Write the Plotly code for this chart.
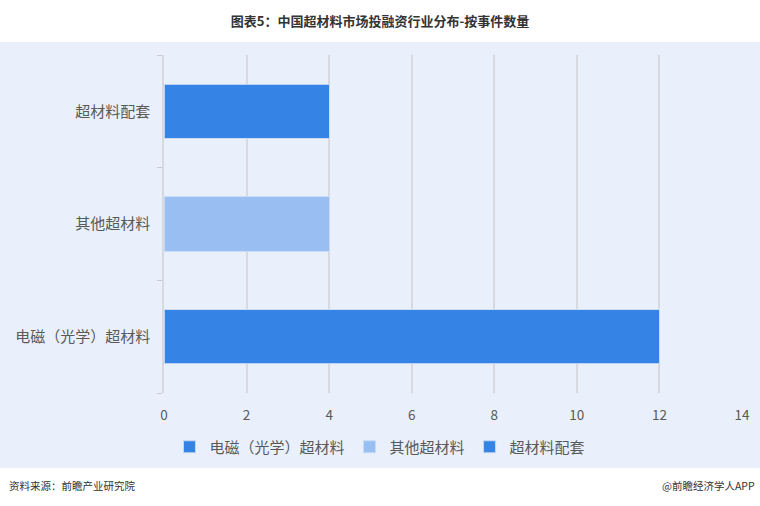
import plotly.graph_objects as go

categories = ["电磁（光学）超材料", "其他超材料", "超材料配套"]
values = [12, 4, 4]
colors = ["#3583e5", "#99bff2", "#3583e5"]
x_ticks = [0, 2, 4, 6, 8, 10, 12, 14]

FONT = "Noto Sans CJK SC"
W, H = 760, 506
L, R, T, B = 164, 18, 55, 113

fig = go.Figure()
for cat, val, col in zip(categories, values, colors):
    fig.add_trace(go.Bar(
        y=[cat], x=[val], name=cat, orientation="h",
        marker=dict(color=col, line=dict(color="rgba(200,220,245,0.9)", width=1)),
        width=0.48,
    ))

pw = W - L - R
ph = H - T - B
def px_x(p):
    return (p - L) / pw
def px_y(p):
    return (H - B - p) / ph

fig.add_shape(type="rect", xref="paper", yref="paper",
              x0=px_x(0), x1=px_x(W), y0=px_y(468), y1=px_y(42),
              fillcolor="#e9f0fb", line=dict(width=0), layer="below")

fig.update_layout(
    width=W, height=H,
    margin=dict(l=L, r=R, t=T, b=B, autoexpand=False),
    paper_bgcolor="white", plot_bgcolor="rgba(0,0,0,0)",
    barmode="stack",
    font=dict(family=FONT, size=13, color="#595959"),
    title=dict(text="<b>图表5：中国超材料市场投融资行业分布-按事件数量</b>",
               x=0.5, xref="container", xanchor="center", y=1 - 21 / H, yanchor="middle",
               font=dict(family=FONT, size=13, color="#333333")),
    xaxis=dict(range=[0, 14], tickvals=x_ticks, showgrid=True, gridcolor="#d6dae0",
               gridwidth=1.5, zeroline=False, showline=False, ticks="",
               ticklabelstandoff=12,
               tickfont=dict(size=13.5, color="#595959"), fixedrange=True, automargin=False),
    yaxis=dict(categoryorder="array", categoryarray=categories, showline=True,
               linecolor="#d6dae0", linewidth=1.5, ticks="outside", tickson="boundaries",
               ticklen=5, tickcolor="#c8ccd2", showgrid=False, automargin=False,
               ticklabelstandoff=9,
               tickfont=dict(size=15, color="#595959")),
    legend=dict(orientation="h", x=0.5, xanchor="center", xref="container",
                y=1 - 447 / H, yref="container", yanchor="middle",
                font=dict(size=15, color="#595959"), bgcolor="rgba(0,0,0,0)",
                itemwidth=30, traceorder="normal"),
    showlegend=True,
)

fig.add_annotation(text="资料来源：前瞻产业研究院", xref="paper", yref="paper",
                   x=px_x(7), y=px_y(485), xanchor="left", yanchor="middle",
                   showarrow=False, font=dict(family=FONT, size=10.5, color="#333333"))
fig.add_annotation(text="@前瞻经济学人APP", xref="paper", yref="paper",
                   x=px_x(757), y=px_y(485), xanchor="right", yanchor="middle",
                   showarrow=False, font=dict(family=FONT, size=10.5, color="#333333"))

fig.write_html("out.html", config={"displayModeBar": False},
               post_script="document.body.style.margin='0';")
